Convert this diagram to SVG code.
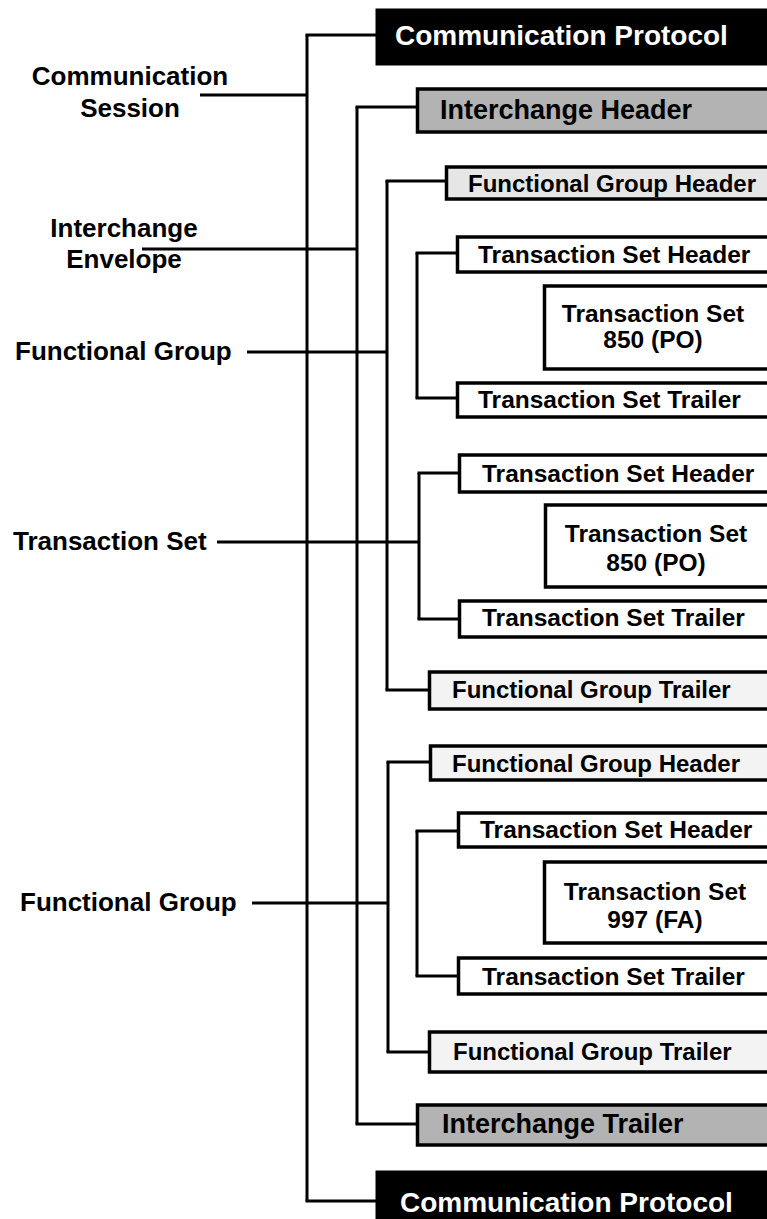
<svg xmlns="http://www.w3.org/2000/svg" width="767" height="1219" viewBox="0 0 767 1219">
<style>
text{font-family:"Liberation Sans",Arial,sans-serif;font-weight:bold;fill:#000}
.lbl{font-size:26px}
.cp{fill:#000;stroke:#000;stroke-width:3}
.cpt{font-size:28px;fill:#fff}
.ih{fill:#b3b3b3;stroke:#000;stroke-width:3.5}
.iht{font-size:27px}
.fgh{fill:#e6e6e6;stroke:#000;stroke-width:3.5}
.fgl{fill:#f3f3f3;stroke:#000;stroke-width:3.5}
.ts{fill:#fff;stroke:#000;stroke-width:3.5}
.t24{font-size:24px}
.t245{font-size:24.5px}
.tsb{font-size:24.5px;text-anchor:middle}
.mid{text-anchor:middle}
.conn line{stroke:#000;stroke-width:3;fill:none}
</style>
<rect width="767" height="1219" fill="#fff"/>
<g class="conn">
<line x1="307" y1="35" x2="307" y2="1201"/>
<line x1="357" y1="107" x2="357" y2="1124"/>
<line x1="387" y1="181" x2="387" y2="690"/>
<line x1="388" y1="762" x2="388" y2="1052"/>
<line x1="417" y1="253" x2="417" y2="398"/>
<line x1="419" y1="473" x2="419" y2="619"/>
<line x1="417" y1="831" x2="417" y2="976"/>
<line x1="200" y1="95" x2="307" y2="95"/>
<line x1="142" y1="249" x2="357" y2="249"/>
<line x1="247" y1="352" x2="387" y2="352"/>
<line x1="217" y1="542" x2="419" y2="542"/>
<line x1="252" y1="903" x2="388" y2="903"/>
<line x1="305.5" y1="35" x2="377" y2="35"/>
<line x1="355.5" y1="107" x2="417" y2="107"/>
<line x1="385.5" y1="181" x2="446" y2="181"/>
<line x1="415.5" y1="253" x2="457" y2="253"/>
<line x1="415.5" y1="398" x2="457" y2="398"/>
<line x1="417.5" y1="473" x2="459" y2="473"/>
<line x1="417.5" y1="619" x2="459" y2="619"/>
<line x1="385.5" y1="690" x2="429" y2="690"/>
<line x1="386.5" y1="762" x2="430" y2="762"/>
<line x1="415.5" y1="831" x2="458" y2="831"/>
<line x1="415.5" y1="976" x2="458" y2="976"/>
<line x1="386.5" y1="1052" x2="429" y2="1052"/>
<line x1="355.5" y1="1124" x2="417" y2="1124"/>
<line x1="305.5" y1="1201" x2="377" y2="1201"/>
</g>
<g id="label-comm-session"><text class="lbl mid" x="130" y="85">Communication</text><text class="lbl mid" x="130" y="117">Session</text></g>
<g id="label-interchange-envelope"><text class="lbl mid" x="124" y="237">Interchange</text><text class="lbl mid" x="124" y="268">Envelope</text></g>
<g id="label-functional-group-1"><text class="lbl" x="15" y="360">Functional Group</text></g>
<g id="label-transaction-set"><text class="lbl" x="13" y="550">Transaction Set</text></g>
<g id="label-functional-group-2"><text class="lbl" x="20" y="911">Functional Group</text></g>
<g id="comm-protocol-top"><rect class="cp" x="377" y="10" width="400" height="54"/><text class="cpt" x="395" y="45">Communication Protocol</text></g>
<g id="interchange-header"><rect class="ih" x="417.5" y="89" width="360" height="43"/><text class="iht" x="440" y="119">Interchange Header</text></g>
<g id="fg-header-1"><rect class="fgh" x="446.5" y="167" width="330" height="32"/><text class="t24" x="468" y="192">Functional Group Header</text></g>
<g id="ts-header-1"><rect class="ts" x="457.5" y="237" width="320" height="35"/><text class="t245" x="478" y="263">Transaction Set Header</text></g>
<g id="ts-850-1"><rect class="ts" x="544.5" y="286" width="240" height="83"/><text class="tsb" x="653" y="322">Transaction Set</text><text class="tsb" x="653" y="348">850 (PO)</text></g>
<g id="ts-trailer-1"><rect class="ts" x="457.5" y="383" width="320" height="34"/><text class="t245" x="478" y="408">Transaction Set Trailer</text></g>
<g id="ts-header-2"><rect class="ts" x="459.5" y="455" width="320" height="37"/><text class="t245" x="482" y="482">Transaction Set Header</text></g>
<g id="ts-850-2"><rect class="ts" x="545.5" y="505" width="240" height="82"/><text class="tsb" x="656" y="542">Transaction Set</text><text class="tsb" x="656" y="571">850 (PO)</text></g>
<g id="ts-trailer-2"><rect class="ts" x="459.5" y="601" width="320" height="36"/><text class="t245" x="482" y="626">Transaction Set Trailer</text></g>
<g id="fg-trailer-1"><rect class="fgl" x="429.5" y="672" width="350" height="37"/><text class="t24" x="452" y="698">Functional Group Trailer</text></g>
<g id="fg-header-2"><rect class="fgl" x="430.5" y="746" width="350" height="34"/><text class="t24" x="452" y="772">Functional Group Header</text></g>
<g id="ts-header-3"><rect class="ts" x="458.5" y="813" width="320" height="34"/><text class="t245" x="480" y="838">Transaction Set Header</text></g>
<g id="ts-997"><rect class="ts" x="544.5" y="862" width="240" height="81"/><text class="tsb" x="655" y="900">Transaction Set</text><text class="tsb" x="655" y="928">997 (FA)</text></g>
<g id="ts-trailer-3"><rect class="ts" x="458.5" y="958" width="320" height="36"/><text class="t245" x="482" y="985">Transaction Set Trailer</text></g>
<g id="fg-trailer-2"><rect class="fgl" x="429.5" y="1032" width="350" height="40"/><text class="t24" x="453" y="1060">Functional Group Trailer</text></g>
<g id="interchange-trailer"><rect class="ih" x="417.5" y="1105" width="360" height="40"/><text class="iht" x="442" y="1133">Interchange Trailer</text></g>
<g id="comm-protocol-bottom"><rect class="cp" x="377" y="1172" width="400" height="60"/><text class="cpt" x="400" y="1212">Communication Protocol</text></g>
</svg>
